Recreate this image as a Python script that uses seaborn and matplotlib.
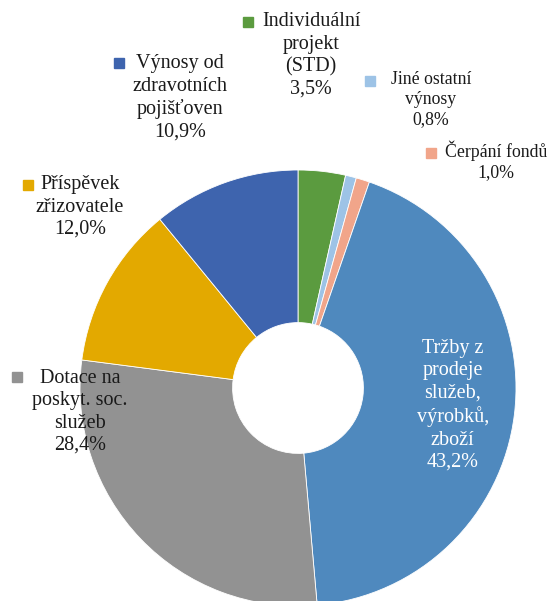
import matplotlib
matplotlib.use("Agg")
import matplotlib.pyplot as plt
import seaborn as sns

# slices, clockwise from 12 o'clock
categories = [
    "Individuální\nprojekt\n(STD)",
    "Jiné ostatní\nvýnosy",
    "Čerpání fondů",
    "Tržby z\nprodeje\nslužeb,\nvýrobků,\nzboží",
    "Dotace na\nposkyt. soc.\nslužeb",
    "Příspěvek\nzřizovatele",
    "Výnosy od\nzdravotních\npojišťoven",
]
shares = [3.5, 0.8, 1.0, 43.2, 28.4, 12.0, 10.9]
pct_labels = ["3,5%", "0,8%", "1,0%", "43,2%", "28,4%", "12,0%", "10,9%"]
colors = ["#5B9B3F", "#9DC3E6", "#F1A58A", "#4F89BE", "#929292", "#E3A900", "#3E64AE"]

sns.set_theme(style="white")
plt.rcParams["font.family"] = ["Liberation Serif", "DejaVu Serif"]

fig = plt.figure(figsize=(5.5, 6.01), dpi=100)
ax = fig.add_axes([0, 0, 1, 1])

ax.pie(shares, colors=colors, startangle=90, counterclock=False,
       radius=1.0, wedgeprops=dict(width=0.70, edgecolor="white", linewidth=0.6))

# label block centres, legend-key positions (pie units) and font sizes
label_pos = [(0.06, 1.525), (0.61, 1.325), (0.91, 1.04), (0.71, -0.08),
             (-1.00, -0.11), (-1.00, 0.83), (-0.54, 1.33)]
key_pos = [(-0.23, 1.68), (0.33, 1.41), (0.61, 1.08), None,
           (-1.29, 0.05), (-1.24, 0.93), (-0.82, 1.49)]
sizes = [14.5, 12.8, 12.8, 14.5, 14.5, 14.5, 14.5]

for cat, pct, col, (tx, ty), kp, fs in zip(categories, pct_labels, colors,
                                           label_pos, key_pos, sizes):
    inside = kp is None
    ax.text(tx, ty, cat + "\n" + pct, ha="center", va="center",
            multialignment="center", fontsize=fs,
            color="white" if inside else "#1a1a1a", linespacing=1.24)
    if kp is not None:
        ax.plot(kp[0], kp[1], marker="s", markersize=7.5, color=col, linestyle="none")

ax.set_xlim(-298 / 218, (550 - 298) / 218)
ax.set_ylim(-(601 - 388) / 218, 388 / 218)
ax.set_aspect("auto")
ax.axis("off")

fig.savefig("out.png", dpi=100)
